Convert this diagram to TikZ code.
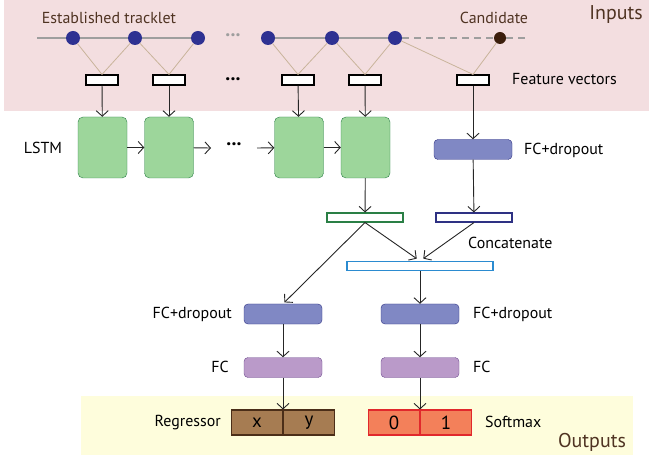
\documentclass[tikz,border=0pt]{standalone}
\usepackage{fontspec}
\setmainfont{PT Sans}
\usetikzlibrary{arrows.meta}
\definecolor{inpink}{HTML}{F3DEE0}
\definecolor{outyellow}{HTML}{FEFDDC}
\definecolor{dotblue}{HTML}{2E3192}
\definecolor{canddark}{HTML}{3B1E0C}
\definecolor{tanline}{HTML}{C9B49B}
\definecolor{trackgray}{HTML}{9E9E9E}
\definecolor{brtext}{HTML}{4F3322}
\definecolor{lstmfill}{HTML}{9DD69B}
\definecolor{lstmline}{HTML}{2A7F45}
\definecolor{dropfill}{HTML}{8088C4}
\definecolor{dropline}{HTML}{2E3183}
\definecolor{fcfill}{HTML}{BA9AC9}
\definecolor{fcline}{HTML}{6E4C8E}
\definecolor{catline}{HTML}{2B8BD0}
\definecolor{regfill}{HTML}{A67C52}
\definecolor{regline}{HTML}{4B2E18}
\definecolor{smfill}{HTML}{F3805A}
\definecolor{smline}{HTML}{E1282C}
\tikzset{
  dotnode/.style={circle,fill=dotblue,minimum size=14bp,inner sep=0pt},
  featbox/.style={draw,line width=1.1bp,fill=white,minimum width=32bp,minimum height=10bp,inner sep=0pt},
  lstmbox/.style={draw=lstmline,fill=lstmfill,rounded corners=5bp,minimum width=49bp,minimum height=61bp,inner sep=0pt},
  dropbox/.style={draw=dropline,fill=dropfill,rounded corners=4bp,minimum width=78bp,minimum height=20bp,inner sep=0pt},
  fcbox/.style={draw=fcline,fill=fcfill,rounded corners=4bp,minimum width=78bp,minimum height=20bp,inner sep=0pt},
  barbox/.style={draw,line width=1.1bp,fill=white,minimum height=9bp,inner sep=0pt},
  outcell/.style={draw,line width=1.1bp,minimum width=51bp,minimum height=25bp,inner sep=0pt,font=\fontsize{19}{19}\selectfont},
  lbl/.style={inner sep=0pt,font=\fontsize{16}{16}\selectfont},
  dotstxt/.style={inner sep=0pt,font=\fontsize{20}{20}\selectfont\bfseries},
  arr/.style={-{Straight Barb[length=5.5bp,width=12bp]},line width=0.9bp,draw=black!85},
}
\begin{document}
\begin{tikzpicture}[x=1bp,y=-1bp]
\useasboundingbox (0,0) rectangle (649,456);
\fill[inpink] (4,0) rectangle (649,111);
\fill[outyellow] (81,396) rectangle (633,455);
% inputs
\node[lbl,text=brtext] (tracktxt) at (109,18) {Established tracklet};
\node[lbl,text=brtext] (candtxt) at (494,18) {Candidate};
\node[inner sep=0pt,text=brtext,font=\fontsize{20}{20}\selectfont] (intxt) at (616,15) {Inputs};
\coordinate (tl) at (37,38);
\coordinate (te) at (530,38);
\node[dotnode] (d1) at (73,38) {};
\node[dotnode] (d2) at (135,38) {};
\node[dotnode] (d3) at (198,38) {};
\node[dotnode] (d4) at (268,38) {};
\node[dotnode] (d5) at (332,38) {};
\node[dotnode] (d6) at (395,38) {};
\node[circle,fill=canddark,minimum size=12bp,inner sep=0pt] (dc) at (500,38) {};
\node[dotstxt,text=trackgray] (tdots) at (233,35) {...};
\draw[trackgray,line width=1.4bp] (tl) -- (d1) (d1) -- (d2) (d2) -- (d3) (d4) -- (d5) (d5) -- (d6);
\draw[trackgray,line width=1.4bp,dash pattern=on 7bp off 5bp] (d6) -- (dc) (dc) -- (te);
\node[featbox] (f1) at (102,80) {};
\node[featbox] (f2) at (169,80) {};
\node[featbox] (f3) at (298,80) {};
\node[featbox] (f4) at (365,80) {};
\node[featbox] (f5) at (473,80) {};
\node[dotstxt] (fdots) at (233,79) {...};
\draw[tanline,line width=0.8bp] (d1) -- (f1.north) -- (d2) -- (f2.north) -- (d3)
  (d4) -- (f3.north) -- (d5) -- (f4.north) -- (d6) -- (f5.north) -- (dc);
\node[lbl,anchor=west] (feattxt) at (512,79) {Feature vectors};
% lstm
\node[lbl] (lstmtxt) at (43,148) {LSTM};
\node[lstmbox] (l1) at (102.5,147.5) {};
\node[lstmbox] (l2) at (169,147.5) {};
\node[lstmbox] (l3) at (299,147.5) {};
\node[lstmbox] (l4) at (365.5,147.5) {};
\node[dotstxt] (ldots) at (234,144) {...};
\coordinate (la) at (211,148);
\coordinate (lb) at (257,148);
\draw[arr] (f1) -- (l1);
\draw[arr] (f2) -- (l2);
\draw[arr] (f3) -- (l3);
\draw[arr] (f4) -- (l4);
\draw[arr] (l1) -- (l2);
\draw[arr] (l2) -- (la);
\draw[arr] (lb) -- (l3);
\draw[arr] (l3) -- (l4);
\node[dropbox] (fcd) at (473,149.5) {};
\node[lbl,anchor=west] (fcdtxt) at (524,150) {FC+dropout};
\draw[arr] (f5) -- (fcd);
% concatenate
\node[barbox,draw=lstmline,minimum width=76bp] (gbar) at (365,217.5) {};
\node[barbox,draw=dropline,minimum width=76bp] (nbar) at (474,217.5) {};
\node[barbox,draw=catline,minimum width=146bp] (cat) at (420,266) {};
\node[lbl,anchor=west] (cattxt) at (468,243) {Concatenate};
\draw[arr] (l4) -- (gbar);
\draw[arr] (fcd) -- (nbar);
\draw[arr,shorten >=4bp] (gbar.south) -- (cat.north);
\draw[arr,shorten >=4bp] (nbar.south) -- (cat.north);
% heads
\node[dropbox] (dl) at (283,314) {};
\node[dropbox] (dr) at (420,314) {};
\node[fcbox] (cl) at (283,367.5) {};
\node[fcbox] (cr) at (420,367.5) {};
\node[lbl,anchor=east] (dltxt) at (232,314) {FC+dropout};
\node[lbl,anchor=west] (drtxt) at (473,314) {FC+dropout};
\node[lbl,anchor=east] (cltxt) at (229,367) {FC};
\node[lbl,anchor=west] (crtxt) at (473,367) {FC};
\draw[arr,shorten >=2bp] (gbar.south) -- (dl.north);
\draw[arr] (cat) -- (dr);
\draw[arr] (dl) -- (cl);
\draw[arr] (dr) -- (cr);
% outputs
\node[outcell,draw=regline,fill=regfill,anchor=east] (rx) at (283,422.5) {x};
\node[outcell,draw=regline,fill=regfill,anchor=west] (ry) at (283,422.5) {y};
\node[outcell,draw=smline,fill=smfill,anchor=east] (s0) at (420,422.5) {0};
\node[outcell,draw=smline,fill=smfill,anchor=west] (s1) at (420,422.5) {1};
\draw[arr] (cl.south) -- (rx.north east);
\draw[arr] (cr.south) -- (s0.north east);
\node[lbl,anchor=east] (regtxt) at (221,423) {Regressor};
\node[lbl,anchor=west] (smtxt) at (485,422) {Softmax};
\node[inner sep=0pt,text=brtext,font=\fontsize{20}{20}\selectfont] (outtxt) at (592,442) {Outputs};
\end{tikzpicture}
\end{document}
